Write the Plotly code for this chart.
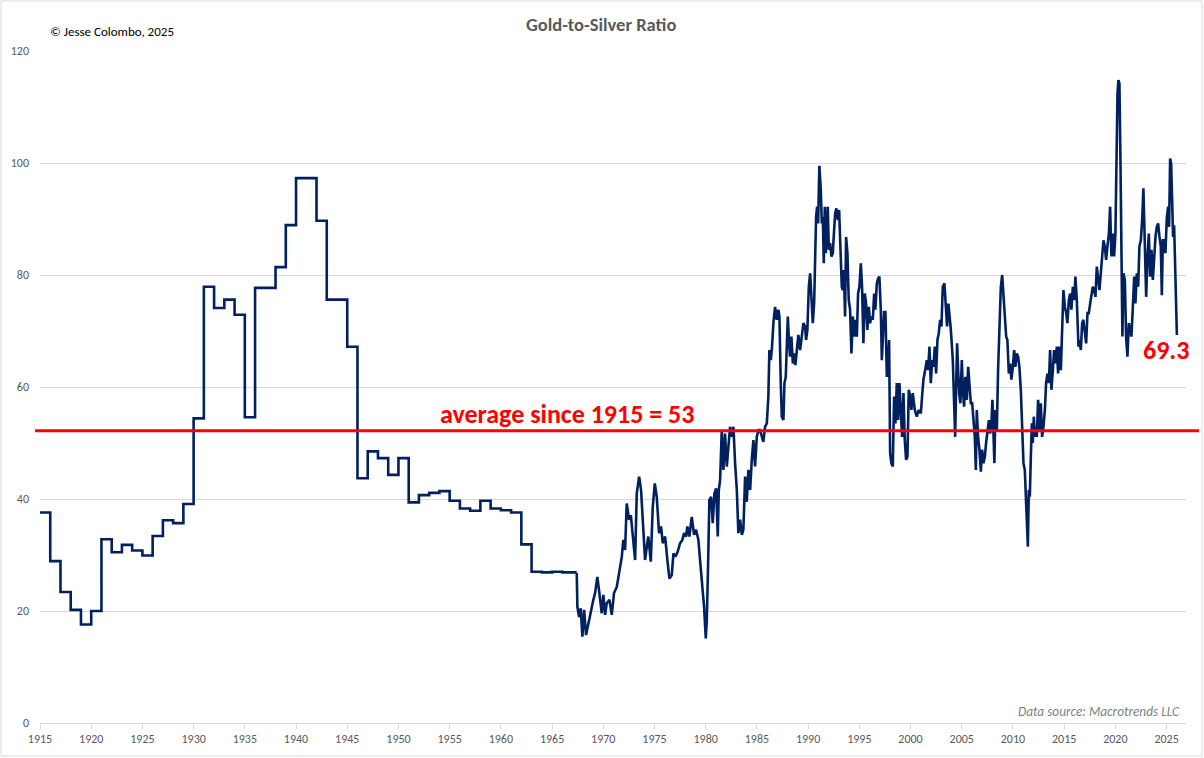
import plotly.graph_objects as go

# ---- Annual (step) data 1915-1966 ----
annual_years = list(range(1915, 1967))
annual_ratio = [37.6, 28.9, 23.4, 20.2, 17.6, 20.0, 32.8, 30.5, 31.8, 30.8,
                29.9, 33.4, 36.2, 35.7, 39.1, 54.4, 77.9, 74.1, 75.6, 72.9,
                54.6, 77.7, 77.7, 81.4, 88.9, 97.3, 97.3, 89.7, 75.6, 75.6,
                67.2, 43.7, 48.5, 47.3, 44.3, 47.3, 39.4, 40.7, 41.1, 41.4,
                39.7, 38.3, 37.9, 39.7, 38.3, 38.0, 37.6, 31.9, 27.0, 26.9,
                27.0, 26.9]
annual_end_year = 1967.41

# ---- Monthly-ish data 1967-2025 ----
monthly_years = [
    1967.41, 1967.47, 1967.64, 1967.80, 1967.96, 1968.13, 1968.32, 1968.54, 1968.78, 1969.03,
    1969.20, 1969.42, 1969.62, 1969.85, 1970.01, 1970.18, 1970.34, 1970.60, 1970.83, 1971.05,
    1971.32, 1971.57, 1971.81, 1971.96, 1972.13, 1972.29, 1972.52, 1972.69, 1972.88, 1973.11,
    1973.27, 1973.50, 1973.69, 1973.92, 1974.08, 1974.25, 1974.40, 1974.64, 1974.83, 1975.03,
    1975.22, 1975.45, 1975.64, 1975.81, 1976.04, 1976.26, 1976.46, 1976.69, 1976.85, 1977.04,
    1977.27, 1977.50, 1977.72, 1977.89, 1978.09, 1978.21, 1978.41, 1978.64, 1978.87, 1979.06,
    1979.29, 1979.45, 1979.65, 1979.84, 1980.01, 1980.11, 1980.23, 1980.36, 1980.53, 1980.69,
    1980.85, 1981.02, 1981.18, 1981.28, 1981.41, 1981.57, 1981.73, 1981.89, 1982.06, 1982.22,
    1982.38, 1982.55, 1982.71, 1982.87, 1983.04, 1983.19, 1983.36, 1983.53, 1983.68, 1983.85,
    1984.01, 1984.17, 1984.34, 1984.50, 1984.66, 1984.82, 1984.99, 1985.15,
    1985.31, 1985.63, 1985.80, 1985.97, 1986.12, 1986.22, 1986.36, 1986.48, 1986.61, 1986.78,
    1986.94, 1987.10, 1987.20, 1987.33, 1987.43, 1987.59, 1987.69, 1987.82, 1987.92, 1988.02,
    1988.14, 1988.24, 1988.37, 1988.51, 1988.63, 1988.76, 1988.90, 1989.05, 1989.22, 1989.38,
    1989.54, 1989.71, 1989.80, 1989.93, 1990.07, 1990.20, 1990.32, 1990.46, 1990.59, 1990.68,
    1990.78, 1990.88, 1990.98, 1991.10, 1991.24, 1991.34, 1991.44, 1991.53, 1991.63, 1991.73,
    1991.83, 1991.92, 1992.02, 1992.15, 1992.28, 1992.41, 1992.54, 1992.64, 1992.76, 1992.90,
    1993.03, 1993.15, 1993.29, 1993.39, 1993.49, 1993.61, 1993.71, 1993.84, 1993.97, 1994.10,
    1994.23, 1994.37, 1994.49, 1994.62, 1994.76, 1994.88, 1995.01, 1995.15, 1995.27, 1995.40,
    1995.54, 1995.66, 1995.79, 1995.93, 1996.05, 1996.18, 1996.32, 1996.45, 1996.57, 1996.71,
    1996.84, 1996.96, 1997.10, 1997.20, 1997.30, 1997.42, 1997.55, 1997.69, 1997.81, 1997.91,
    1998.01, 1998.13, 1998.27, 1998.40, 1998.53, 1998.66, 1998.79, 1998.92, 1999.05, 1999.18,
    1999.31, 1999.44, 1999.57, 1999.70, 1999.83, 1999.96, 2000.09, 2000.22, 2000.42, 2000.61,
    2000.81, 2001.01, 2001.13, 2001.26, 2001.43, 2001.59, 2001.72, 2001.85, 2001.98, 2002.11,
    2002.24, 2002.37, 2002.50, 2002.63, 2002.76, 2002.89, 2003.02, 2003.15, 2003.31, 2003.45,
    2003.57, 2003.70,
    2003.94, 2004.13, 2004.26, 2004.36, 2004.45, 2004.55, 2004.65, 2004.75, 2004.87, 2005.01,
    2005.11, 2005.23, 2005.36, 2005.50, 2005.63, 2005.75, 2005.89, 2006.02, 2006.14, 2006.28,
    2006.38, 2006.47, 2006.60, 2006.73, 2006.87, 2006.99, 2007.12, 2007.26, 2007.38, 2007.51,
    2007.65, 2007.77, 2007.90, 2008.00, 2008.10, 2008.19, 2008.29, 2008.43, 2008.55, 2008.68,
    2008.82, 2008.95, 2009.07, 2009.21, 2009.34, 2009.46, 2009.60, 2009.73, 2009.85, 2009.99,
    2010.12, 2010.24, 2010.38, 2010.51, 2010.63, 2010.77, 2010.90, 2011.03, 2011.16, 2011.26,
    2011.36, 2011.46, 2011.55, 2011.65, 2011.75, 2011.85, 2011.94, 2012.04, 2012.14, 2012.24,
    2012.33, 2012.46, 2012.59, 2012.72, 2012.85, 2012.98, 2013.12, 2013.24, 2013.37, 2013.51,
    2013.63, 2013.76, 2013.90, 2014.02, 2014.15, 2014.29, 2014.41, 2014.54, 2014.68, 2014.80,
    2014.93, 2015.07, 2015.20, 2015.32, 2015.46, 2015.59, 2015.71, 2015.85, 2015.98, 2016.10,
    2016.24, 2016.40,
    2016.49, 2016.63, 2016.76, 2016.88, 2017.02, 2017.15, 2017.28, 2017.41, 2017.54, 2017.67,
    2017.80, 2017.93, 2018.06, 2018.19, 2018.32, 2018.45, 2018.58, 2018.71, 2018.84, 2018.97,
    2019.10, 2019.23, 2019.37, 2019.49, 2019.62, 2019.76, 2019.88, 2020.01, 2020.11, 2020.21,
    2020.30, 2020.40, 2020.50, 2020.60, 2020.69, 2020.79, 2020.93, 2021.05, 2021.18, 2021.32,
    2021.45, 2021.57, 2021.71, 2021.84, 2021.96, 2022.10, 2022.23, 2022.35, 2022.49, 2022.62,
    2022.74, 2022.88, 2023.01, 2023.13, 2023.27, 2023.40, 2023.53, 2023.66, 2023.79, 2023.92,
    2024.05, 2024.18, 2024.31, 2024.44, 2024.54, 2024.64, 2024.77, 2024.89, 2025.03, 2025.16,
    2025.25, 2025.35, 2025.45, 2025.55, 2025.64, 2025.74, 2025.84, 2025.94, 2026.01,
]
monthly_ratio = [
    26.8, 20.8, 18.9, 20.5, 15.4, 20.2, 15.7, 17.8, 19.6, 22.0,
    23.2, 26.1, 23.2, 19.6, 22.9, 19.3, 21.4, 22.0, 19.3, 23.2,
    24.3, 27.0, 29.7, 32.7, 30.9, 39.2, 36.3, 37.1, 33.3, 29.1,
    41.0, 44.0, 41.6, 33.3, 29.1, 31.5, 33.3, 28.8, 38.6, 42.8,
    40.4, 33.9, 35.1, 32.1, 33.3, 29.1, 25.8, 26.4, 30.3, 29.7,
    30.6, 32.1, 32.7, 33.9, 33.3, 35.1, 33.3, 36.8, 33.6, 34.5,
    32.7, 29.1, 25.5, 20.8, 15.1, 18.4, 27.9, 39.8, 40.4, 35.7,
    41.0, 41.9, 33.3, 41.6, 43.4, 52.3, 45.2, 51.7, 45.8, 49.3,
    52.9, 51.1, 52.9, 46.4, 41.6, 33.9, 36.3, 33.6, 34.5, 44.0,
    39.5, 45.2, 41.6, 47.0, 50.5, 45.8, 51.1, 52.3,
    52.3, 50.2, 52.9, 53.5, 58.3, 66.6, 64.8, 67.2, 71.4, 74.3,
    72.0, 73.8, 72.6, 60.7, 54.7, 54.1, 60.7, 61.8, 70.2, 72.6,
    67.8, 65.4, 69.0, 64.2, 66.0, 63.9, 66.6, 69.3, 66.6, 69.6,
    71.4, 70.8, 68.4, 70.2, 77.9, 80.3, 74.9, 71.4, 74.9, 81.5,
    90.4, 92.2, 89.2, 99.5, 95.2, 89.2, 90.4, 82.1, 92.2, 83.9,
    89.2, 92.2, 84.5, 85.7, 83.3, 83.9, 88.0, 91.0, 91.9, 89.8,
    91.6, 85.7, 77.9, 77.3, 80.9, 72.6, 86.8, 83.9, 75.5, 73.8,
    66.0, 72.6, 69.0, 72.0, 69.0, 76.7, 77.9, 82.1, 77.9, 67.8,
    76.7, 74.9, 70.2, 74.3, 71.4, 72.6, 72.0, 76.7, 73.8, 78.5,
    79.4, 79.7, 73.8, 64.8, 67.8, 73.4, 73.4, 61.8, 64.2, 68.4,
    48.2, 46.4, 45.8, 58.3, 53.5, 60.7, 54.1, 60.7, 55.9, 51.1,
    58.9, 50.5, 47.0, 47.6, 59.5, 58.3, 55.9, 58.9, 55.9, 54.7,
    55.9, 55.3, 58.3, 61.3, 63.0, 64.8, 63.0, 67.2, 60.7, 64.8,
    63.6, 67.2, 62.4, 68.4, 69.6, 72.0, 70.8, 77.9, 78.5, 74.9,
    70.8, 74.9,
    70.2, 64.8, 58.3, 51.1, 59.5, 67.8, 63.0, 58.9, 57.1, 64.8,
    59.5, 56.5, 61.8, 57.7, 63.6, 59.5, 57.1, 57.1, 54.7, 51.1,
    45.2, 55.9, 51.1, 48.8, 44.9, 48.8, 46.4, 47.6, 50.0, 52.3,
    54.1, 51.7, 53.5, 57.7, 52.3, 46.4, 55.9, 52.3, 63.0, 72.6,
    77.9, 80.0, 76.1, 72.6, 69.0, 68.4, 62.4, 64.2, 61.3, 63.6,
    66.6, 63.6, 66.0, 65.4, 63.6, 59.5, 53.5, 46.4, 45.2, 40.4,
    35.1, 31.5, 41.6, 40.4, 47.6, 53.5, 50.0, 54.7, 51.1, 52.9,
    51.1, 57.7, 52.3, 57.1, 51.1, 52.9, 55.9, 60.7, 62.4, 60.7,
    66.6, 59.5, 63.0, 66.6, 64.2, 67.2, 62.4, 67.2, 63.0, 72.6,
    77.3, 74.3, 73.2, 71.4, 75.5, 76.7, 73.8, 77.9, 75.5, 79.7,
    75.5, 67.2,
    68.4, 66.6, 71.4, 72.0, 69.6, 67.8, 73.2, 73.2, 74.9, 76.1,
    77.9, 77.3, 76.1, 81.5, 79.7, 77.3, 80.3, 82.7, 86.2, 85.1,
    82.7, 85.1, 87.4, 92.2, 83.3, 87.4, 83.3, 87.4, 100.5, 112.4,
    114.8, 114.2, 100.5, 82.7, 69.0, 80.3, 79.1, 69.0, 65.4, 71.4,
    70.2, 69.0, 74.3, 79.7, 74.9, 80.3, 77.9, 85.1, 86.2, 89.8,
    95.5, 85.1, 76.1, 82.7, 87.4, 79.7, 84.5, 79.1, 83.9, 86.8,
    88.6, 89.2, 86.8, 85.1, 76.4, 86.2, 86.2, 83.9, 90.4, 92.2,
    88.6, 100.8, 99.9, 93.4, 86.8, 88.9, 79.7, 73.2, 69.3,
]

average_value = 52.2
average_label = "average since 1915 = 53"
latest_label = "69.3"
x_ticks = list(range(1915, 2026, 5))
y_ticks = list(range(0, 121, 20))

LINE_COLOR = "#002060"
FONT = "Calibri, Carlito, Lato, sans-serif"

fig = go.Figure()
fig.add_trace(go.Scatter(
    x=annual_years + [annual_end_year],
    y=annual_ratio + [annual_ratio[-1]],
    mode="lines", line=dict(color=LINE_COLOR, width=2.6, shape="hv"),
    hoverinfo="skip", showlegend=False,
))
fig.add_trace(go.Scatter(
    x=monthly_years, y=monthly_ratio,
    mode="lines", line=dict(color=LINE_COLOR, width=2.6),
    hoverinfo="skip", showlegend=False,
))

# average line (extends slightly beyond the plot area like the original)
fig.add_shape(type="line", xref="paper", yref="y",
              x0=-0.0044, x1=1.0113, y0=average_value, y1=average_value,
              line=dict(color="#ff0000", width=3))

# chart border
fig.add_shape(type="rect", xref="paper", yref="paper",
              x0=-0.0340, x1=1.0140, y0=-0.0491, y1=1.0744,
              line=dict(color="#d9d9d9", width=1), layer="below")

fig.add_annotation(text=average_label, x=1966.5, y=55.2, xref="x", yref="y",
                   showarrow=False, xanchor="center", yanchor="middle",
                   font=dict(family=FONT, size=26, color="#ff0000", weight="bold"))
fig.add_annotation(text=latest_label, x=2024.96, y=66.6, xref="x", yref="y",
                   showarrow=False, xanchor="center", yanchor="middle",
                   font=dict(family=FONT, size=26, color="#ff0000", weight="bold"))
fig.add_annotation(text="© Jesse Colombo, 2025", x=0.0070, y=1.0294,
                   xref="paper", yref="paper", showarrow=False,
                   xanchor="left", yanchor="middle",
                   font=dict(family=FONT, size=13, color="#000000"))
fig.add_annotation(text="Gold-to-Silver Ratio", x=0.4895, y=1.0387,
                   xref="paper", yref="paper", showarrow=False,
                   xanchor="center", yanchor="middle",
                   font=dict(family=FONT, size=18.5, color="#595959", weight="bold"))
fig.add_annotation(text="<i>Data source: Macrotrends LLC</i>", x=0.9965, y=0.0164,
                   xref="paper", yref="paper", showarrow=False,
                   xanchor="right", yanchor="middle",
                   font=dict(family=FONT, size=13.3, color="#7f7f7f"))

fig.update_layout(
    width=1204, height=758,
    margin=dict(l=40, r=18, t=51, b=35),
    paper_bgcolor="white", plot_bgcolor="white",
    font=dict(family=FONT, size=12, color="#595959"),
    xaxis=dict(range=[1915, 2026.9], tickmode="array", tickvals=x_ticks,
               ticktext=[str(t) for t in x_ticks],
               showgrid=False, zeroline=False,
               showline=True, linecolor="#d9d9d9", linewidth=1,
               ticks="outside", ticklen=5, tickcolor="#d9d9d9",
               tickfont=dict(family=FONT, size=12, color="#595959")),
    yaxis=dict(range=[0, 120], tickmode="array", tickvals=y_ticks,
               showgrid=True, gridcolor="#d9d9d9", gridwidth=1,
               zeroline=False, showline=False,
               ticks="", ticklabelstandoff=10,
               tickfont=dict(family=FONT, size=12, color="#595959")),
)

fig.write_html("out.html")
